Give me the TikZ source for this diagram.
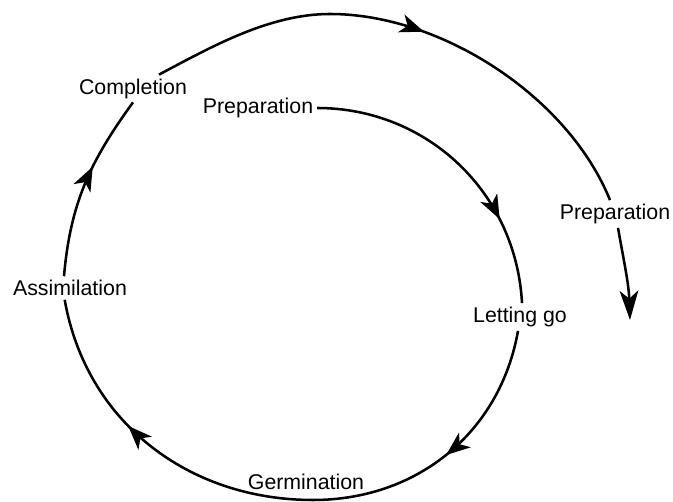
\documentclass[tikz,border=0pt]{standalone}
\usepackage{fontspec}
\setmainfont{Liberation Sans}
\usetikzlibrary{arrows.meta,decorations.markings}

\tikzset{
  etapa/.style={font=\fontsize{16}{19}\selectfont, inner sep=2pt},
  seta/.style={postaction={decorate, decoration={markings, mark=at position #1 with {\arrow{>}}}}},
}

\begin{document}
\begin{tikzpicture}[>={Stealth[length=18pt,width=14pt,inset=5pt]}, x=0.75pt, y=0.75pt, line width=1.9pt]
\useasboundingbox (0,0) rectangle (673,502);
% rótulos das etapas
\node[etapa] (comp) at (133,413.5) {Completion};
\node[etapa] (prepIn) at (258,394) {Preparation};
\node[etapa] (letgo) at (520,185) {Letting go};
\node[etapa] (germ) at (306,20) {Germination};
\node[etapa] (assim) at (70,214) {Assimilation};
\node[etapa] (prepOut) at (615,288) {Preparation};
\coordinate (fundo) at (313,2);
\coordinate (topo) at (330,488);
\coordinate (fim) at (630,182);
% espiral interna: preparação -> letting go
\draw[seta=0.72] (prepIn.east) to[out=0, in=93] ([xshift=1.5pt]letgo.north);
% letting go -> germination -> assimilation
\draw[seta=0.23, seta=0.775] ([xshift=-1.5pt]letgo.south) to[out=-100, in=0] (fundo)
  to[out=180, in=-80] ([xshift=-4pt]assim.south);
% assimilation -> completion
\draw[seta=0.6] ([xshift=-4.5pt]assim.north) to[out=85, in=-126] (comp.south);
% volta externa: completion -> preparação
\draw[seta=0.52] ([xshift=19.5pt]comp.north) to[out=28, in=180, looseness=0.85] (topo)
  to[out=0, in=112, looseness=0.85] ([xshift=-3.75pt]prepOut.north);
\draw[-{Stealth[length=22pt,width=14pt,inset=6pt]}] ([xshift=2.25pt]prepOut.south)
  to[out=-80, in=92] (fim);
\end{tikzpicture}
\end{document}
